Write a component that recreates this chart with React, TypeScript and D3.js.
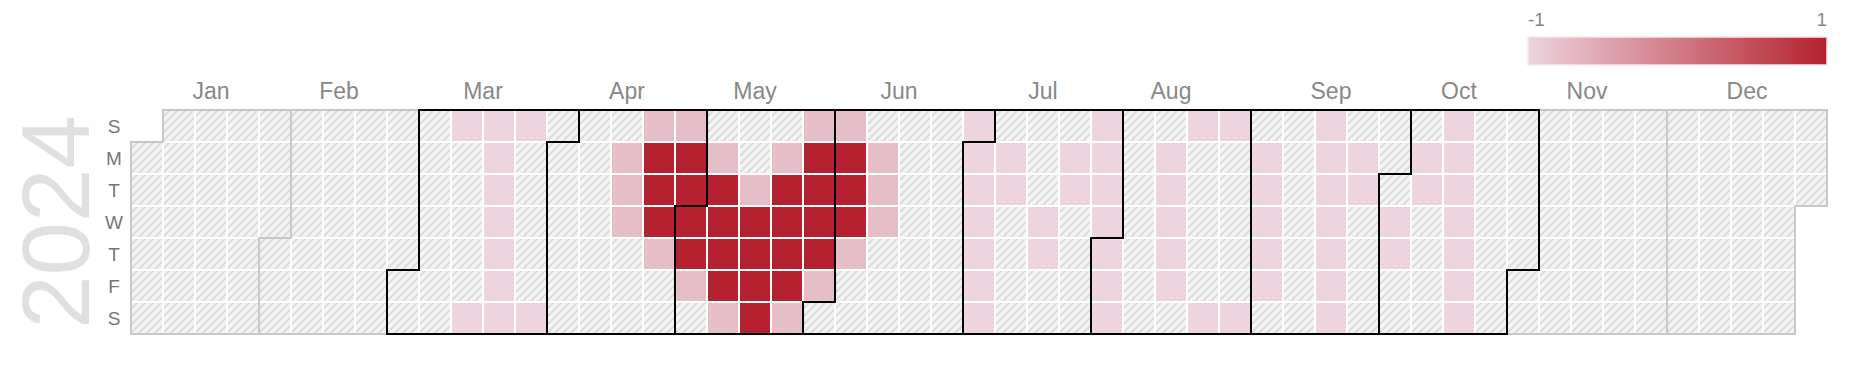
import * as d3 from 'd3';
import React, { useEffect, useRef } from 'react';

// 2024 calendar, "I ♥ MOM" spelled out in days
const year = 2024;
const dayLabels = ['S', 'M', 'T', 'W', 'T', 'F', 'S'];
const legendTicks = [-1, 1];

const letterValue = -1;
const edgeValue = -0.75;
const coreValue = 1;

const letterI = [
  '2024-03-10', '2024-03-16', '2024-03-17', '2024-03-18', '2024-03-19', '2024-03-20',
  '2024-03-21', '2024-03-22', '2024-03-23', '2024-03-24', '2024-03-30',
];
const heartEdge = [
  '2024-04-21', '2024-04-28', '2024-05-26', '2024-06-02',
  '2024-04-15', '2024-05-06', '2024-05-20', '2024-06-10',
  '2024-04-16', '2024-05-14', '2024-06-11',
  '2024-04-17', '2024-06-12',
  '2024-04-25', '2024-06-06',
  '2024-05-03', '2024-05-31',
  '2024-05-11', '2024-05-25',
];
const heartCore = [
  '2024-04-22', '2024-04-29', '2024-05-27', '2024-06-03',
  '2024-04-23', '2024-04-30', '2024-05-07', '2024-05-21', '2024-05-28', '2024-06-04',
  '2024-04-24', '2024-05-01', '2024-05-08', '2024-05-15', '2024-05-22', '2024-05-29', '2024-06-05',
  '2024-05-02', '2024-05-09', '2024-05-16', '2024-05-23', '2024-05-30',
  '2024-05-10', '2024-05-17', '2024-05-24',
  '2024-05-18',
];
const letterM1 = [
  '2024-06-30', '2024-07-01', '2024-07-02', '2024-07-03', '2024-07-04', '2024-07-05', '2024-07-06',
  '2024-07-08', '2024-07-09', '2024-07-17', '2024-07-18', '2024-07-22', '2024-07-23',
  '2024-07-28', '2024-07-29', '2024-07-30', '2024-07-31', '2024-08-01', '2024-08-02', '2024-08-03',
];
const letterO = [
  '2024-08-12', '2024-08-13', '2024-08-14', '2024-08-15', '2024-08-16',
  '2024-08-18', '2024-08-24', '2024-08-25', '2024-08-31',
  '2024-09-02', '2024-09-03', '2024-09-04', '2024-09-05', '2024-09-06',
];
const letterM2 = [
  '2024-09-15', '2024-09-16', '2024-09-17', '2024-09-18', '2024-09-19', '2024-09-20', '2024-09-21',
  '2024-09-23', '2024-09-24', '2024-10-02', '2024-10-03', '2024-10-07', '2024-10-08',
  '2024-10-13', '2024-10-14', '2024-10-15', '2024-10-16', '2024-10-17', '2024-10-18', '2024-10-19',
];

const width = 1864;
const height = 388;
const cellSize = 32;

function App() {
  const ref = useRef<SVGSVGElement>(null);

  useEffect(() => {
    document.body.style.margin = '0';
    const svg = d3.select(ref.current);
    svg.selectAll('*').remove();

    const values = new Map<string, number>();
    [...letterI, ...letterM1, ...letterO, ...letterM2].forEach(d => values.set(d, letterValue));
    heartEdge.forEach(d => values.set(d, edgeValue));
    heartCore.forEach(d => values.set(d, coreValue));

    const fmt = d3.timeFormat('%Y-%m-%d');
    const start = new Date(year, 0, 1);
    const end = new Date(year + 1, 0, 1);
    const days = d3.timeDays(start, end);
    const months = d3.timeMonths(start, end);
    const week = (d: Date) => d3.timeWeek.count(d3.timeYear(d), d);

    const x = d3.scaleLinear().domain([0, 53]).range([131, 131 + 53 * cellSize]);
    const y = d3.scaleLinear().domain([0, 7]).range([110, 110 + 7 * cellSize]);
    const color = d3.scaleLinear<string>()
      .domain([-1, 1])
      .range(['#edd4de', '#b5212e'])
      .interpolate(d3.interpolateRgb);

    const defs = svg.append('defs');
    const pat = defs.append('pattern')
      .attr('id', 'hatch')
      .attr('patternUnits', 'userSpaceOnUse')
      .attr('width', 8)
      .attr('height', 8);
    pat.append('rect').attr('width', 8).attr('height', 8).attr('fill', '#f3f3f3');
    pat.append('path')
      .attr('d', 'M0,8L8,0M-2,2L2,-2M6,10L10,6')
      .attr('stroke', '#dadada')
      .attr('stroke-width', 1.8);

    const grad = defs.append('linearGradient').attr('id', 'legend-grad');
    d3.range(0, 1.0001, 0.1).forEach(t => {
      grad.append('stop')
        .attr('offset', `${t * 100}%`)
        .attr('stop-color', color(-1 + 2 * t));
    });

    // year
    svg.append('text')
      .attr('transform', `translate(89,222) rotate(-90)`)
      .attr('text-anchor', 'middle')
      .attr('font-family', 'Liberation Sans, Arial, sans-serif')
      .attr('font-size', 96)
      .attr('fill', '#e0e0e0')
      .text(year);

    // weekday labels
    svg.append('g')
      .selectAll('text')
      .data(dayLabels)
      .join('text')
      .attr('x', 114)
      .attr('y', (d, i) => y(i + 0.5))
      .attr('dy', '0.36em')
      .attr('text-anchor', 'middle')
      .attr('font-family', 'Liberation Sans, Arial, sans-serif')
      .attr('font-size', 19)
      .attr('fill', '#777')
      .text(d => d);

    // cells
    svg.append('g')
      .selectAll('rect')
      .data(days)
      .join('rect')
      .attr('x', d => x(week(d)))
      .attr('y', d => y(d.getDay()))
      .attr('width', cellSize)
      .attr('height', cellSize)
      .attr('fill', d => {
        const v = values.get(fmt(d));
        return v === undefined ? 'url(#hatch)' : color(v);
      })
      .attr('stroke', '#fff')
      .attr('stroke-width', 2);

    // month outlines, the ones holding data in black on top
    const hasData = (m: Date) => d3.timeDays(m, d3.timeMonth.offset(m, 1)).some(d => values.has(fmt(d)));
    const pathMonth = (t: Date) => {
      const d0 = t.getDay();
      const w0 = week(t);
      const t1 = d3.timeDay.offset(d3.timeMonth.offset(t, 1), -1);
      const d1 = t1.getDay();
      const w1 = week(t1);
      return `M${x(w0 + 1)},${y(d0)}H${x(w0)}V${y(7)}H${x(w1)}V${y(d1 + 1)}H${x(w1 + 1)}V${y(0)}H${x(w0 + 1)}Z`;
    };
    const sorted = months.slice().sort((a, b) => Number(hasData(a)) - Number(hasData(b)));
    svg.append('g')
      .selectAll('path')
      .data(sorted)
      .join('path')
      .attr('d', pathMonth)
      .attr('fill', 'none')
      .attr('stroke', d => (hasData(d) ? '#000' : '#c8c8c8'))
      .attr('stroke-width', 2);

    // month labels
    svg.append('g')
      .selectAll('text')
      .data(months)
      .join('text')
      .attr('x', d => {
        const w0 = week(d);
        const w1 = week(d3.timeDay.offset(d3.timeMonth.offset(d, 1), -1));
        return (x(w0) + x(w1 + 1)) / 2;
      })
      .attr('y', 98.5)
      .attr('text-anchor', 'middle')
      .attr('font-family', 'Liberation Sans, Arial, sans-serif')
      .attr('font-size', 23)
      .attr('fill', '#888')
      .text(d3.timeFormat('%b'));

    // legend
    const lx = d3.scaleLinear().domain([-1, 1]).range([1528, 1827]);
    svg.append('rect')
      .attr('x', lx(-1))
      .attr('y', 37)
      .attr('width', lx(1) - lx(-1))
      .attr('height', 28)
      .attr('fill', 'url(#legend-grad)')
      .attr('stroke', '#f6e9ee')
      .attr('stroke-width', 1.5);
    svg.append('g')
      .selectAll('text')
      .data(legendTicks)
      .join('text')
      .attr('x', d => lx(d))
      .attr('y', 26)
      .attr('text-anchor', d => (d < 0 ? 'start' : 'end'))
      .attr('font-family', 'Liberation Sans, Arial, sans-serif')
      .attr('font-size', 19)
      .attr('fill', '#888')
      .text(d => d);
  }, []);

  return <svg ref={ref} width={width} height={height} style={{ display: 'block' }} />;
}

export default App;
